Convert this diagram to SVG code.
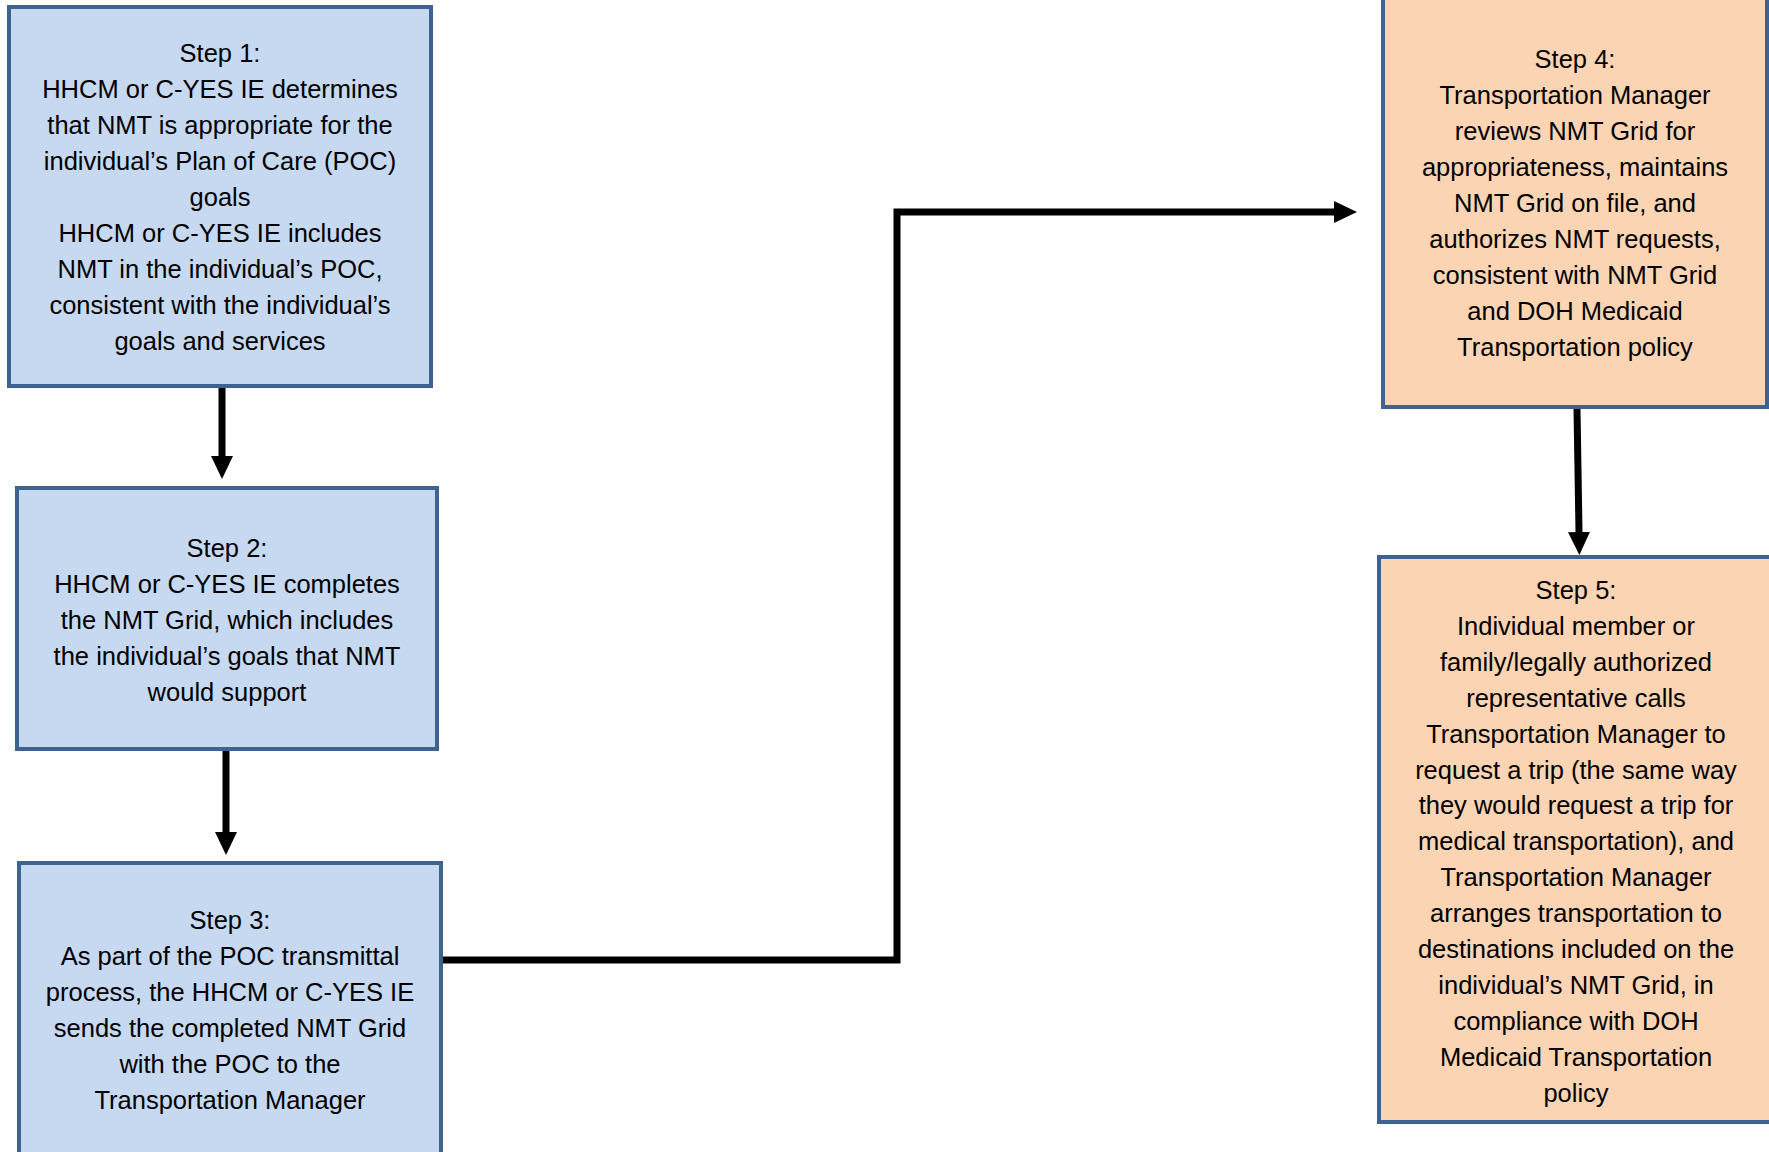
<svg xmlns="http://www.w3.org/2000/svg" width="1769" height="1152" viewBox="0 0 1769 1152">
<style>
.box{stroke:#3F6391;stroke-width:4}
.blue{fill:#C6D9F1}
.orange{fill:#FBD4B4}
.t{font-family:"Liberation Sans",Arial,sans-serif;font-size:25.5px;fill:#000;text-anchor:middle}
.c{fill:none;stroke:#000;stroke-width:7}
</style>
<defs>
<marker id="ah" markerUnits="userSpaceOnUse" markerWidth="24" markerHeight="24" refX="0" refY="11" orient="auto">
<path d="M0,0 L23,11 L0,22 z" fill="#000"/>
</marker>
</defs>
<rect width="1769" height="1152" fill="#fff"/>
<g id="connectors">
<path class="c" d="M222,388 V456" marker-end="url(#ah)"/>
<path class="c" d="M226,751 V832" marker-end="url(#ah)"/>
<path class="c" d="M441,960 H897 V212 H1334" marker-end="url(#ah)"/>
<path class="c" d="M1577,409 L1579,532" marker-end="url(#ah)"/>
</g>
<g id="step1">
<rect class="box blue" x="9" y="7" width="422" height="379"/>
<text class="t" x="220" y="62">Step 1:</text>
<text class="t" x="220" y="98">HHCM or C-YES IE determines</text>
<text class="t" x="220" y="134">that NMT is appropriate for the</text>
<text class="t" x="220" y="170">individual’s Plan of Care (POC)</text>
<text class="t" x="220" y="206">goals</text>
<text class="t" x="220" y="242">HHCM or C-YES IE includes</text>
<text class="t" x="220" y="278">NMT in the individual’s POC,</text>
<text class="t" x="220" y="314">consistent with the individual’s</text>
<text class="t" x="220" y="350">goals and services</text>
</g>
<g id="step2">
<rect class="box blue" x="17" y="488" width="420" height="261"/>
<text class="t" x="227" y="557">Step 2:</text>
<text class="t" x="227" y="593">HHCM or C-YES IE completes</text>
<text class="t" x="227" y="629">the NMT Grid, which includes</text>
<text class="t" x="227" y="665">the individual’s goals that NMT</text>
<text class="t" x="227" y="701">would support</text>
</g>
<g id="step3">
<rect class="box blue" x="19" y="863" width="422" height="310"/>
<text class="t" x="230" y="929">Step 3:</text>
<text class="t" x="230" y="965">As part of the POC transmittal</text>
<text class="t" x="230" y="1001">process, the HHCM or C-YES IE</text>
<text class="t" x="230" y="1037">sends the completed NMT Grid</text>
<text class="t" x="230" y="1073">with the POC to the</text>
<text class="t" x="230" y="1109">Transportation Manager</text>
</g>
<g id="step4">
<rect class="box orange" x="1383" y="-10" width="384" height="417"/>
<text class="t" x="1575" y="68">Step 4:</text>
<text class="t" x="1575" y="104">Transportation Manager</text>
<text class="t" x="1575" y="140">reviews NMT Grid for</text>
<text class="t" x="1575" y="176">appropriateness, maintains</text>
<text class="t" x="1575" y="212">NMT Grid on file, and</text>
<text class="t" x="1575" y="248">authorizes NMT requests,</text>
<text class="t" x="1575" y="284">consistent with NMT Grid</text>
<text class="t" x="1575" y="320">and DOH Medicaid</text>
<text class="t" x="1575" y="356">Transportation policy</text>
</g>
<g id="step5">
<rect class="box orange" x="1379" y="557" width="394" height="565"/>
<text class="t" x="1576" y="599">Step 5:</text>
<text class="t" x="1576" y="635">Individual member or</text>
<text class="t" x="1576" y="671">family/legally authorized</text>
<text class="t" x="1576" y="707">representative calls</text>
<text class="t" x="1576" y="743">Transportation Manager to</text>
<text class="t" x="1576" y="779">request a trip (the same way</text>
<text class="t" x="1576" y="814">they would request a trip for</text>
<text class="t" x="1576" y="850">medical transportation), and</text>
<text class="t" x="1576" y="886">Transportation Manager</text>
<text class="t" x="1576" y="922">arranges transportation to</text>
<text class="t" x="1576" y="958">destinations included on the</text>
<text class="t" x="1576" y="994">individual’s NMT Grid, in</text>
<text class="t" x="1576" y="1030">compliance with DOH</text>
<text class="t" x="1576" y="1066">Medicaid Transportation</text>
<text class="t" x="1576" y="1102">policy</text>
</g>
</svg>
